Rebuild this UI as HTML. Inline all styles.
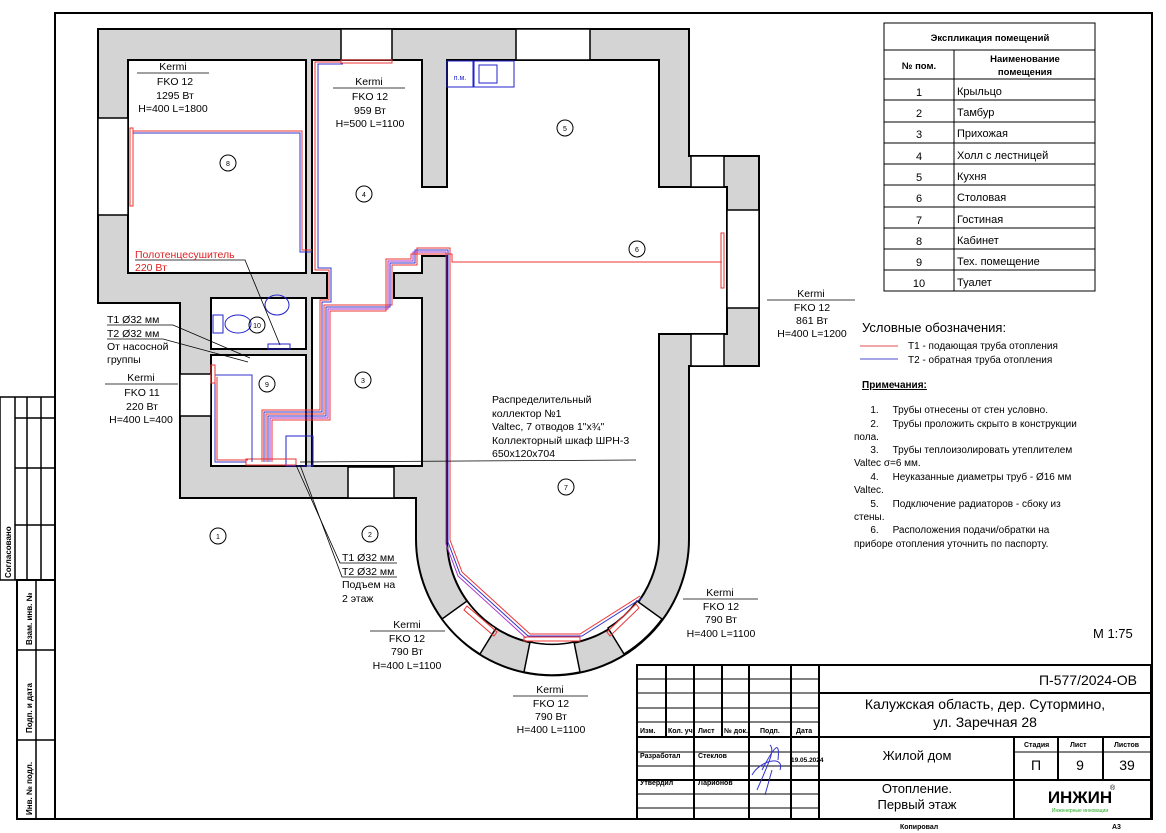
<!DOCTYPE html>
<html><head><meta charset="utf-8"><style>
html,body{margin:0;padding:0;background:#fff;}
svg{display:block;font-family:"Liberation Sans","DejaVu Sans",sans-serif;}
</style></head><body>
<svg width="1166" height="833" viewBox="0 0 1166 833" xmlns="http://www.w3.org/2000/svg">
<rect width="1166" height="833" fill="#fff"/>
<rect x="55" y="13" width="1097" height="806" fill="none" stroke="#000" stroke-width="2"/>
<g stroke="#000" stroke-width="1.5" fill="none">
<rect x="0" y="397" width="55" height="183"/>
<line x1="15" y1="397" x2="15" y2="580"/><line x1="27" y1="397" x2="27" y2="580"/><line x1="41" y1="397" x2="41" y2="580"/>
<line x1="15" y1="418" x2="55" y2="418"/><line x1="15" y1="468" x2="55" y2="468"/><line x1="15" y1="525" x2="55" y2="525"/>
<rect x="17" y="580" width="38" height="239" stroke-width="2"/>
<line x1="36" y1="580" x2="36" y2="819"/>
<line x1="17" y1="650" x2="55" y2="650"/><line x1="17" y1="740" x2="55" y2="740"/>
</g>
<g font-size="8" font-weight="bold">
<text transform="translate(11,578) rotate(-90)">Согласовано</text>
<text transform="translate(32,645) rotate(-90)">Взам. инв. №</text>
<text transform="translate(32,733) rotate(-90)">Подп. и дата</text>
<text transform="translate(32,815) rotate(-90)">Инв. № подл.</text>
</g>

<path d="M98,29 L689,29 L689,156 L759,156 L759,366 L689,366 L689,539 A136,136 0 0 1 416,539 L416,498 L180,498 L180,303 L98,303 Z" fill="#d4d4d4" stroke="#000" stroke-width="2"/>
<g fill="#fff" stroke="#000" stroke-width="2">
<rect x="128" y="60" width="178" height="213"/>
<rect x="211" y="298" width="95" height="51"/>
<rect x="211" y="355" width="95" height="111"/>
<path d="M312,60 L422,60 L422,187 L447,187 L447,60 L659,60 L659,187 L727,187 L727,334 L659,334 L659,539 A105,105 0 0 1 447,539 L447,256 L422,256 L422,273 L394,273 L394,298 L422,298 L422,466 L312,466 L312,298 L327,298 L327,273 L312,273 Z"/>
</g>
<g fill="#fff" stroke="#000" stroke-width="1.5">
<rect x="341" y="29" width="51" height="31"/>
<rect x="516" y="29" width="74" height="31"/>
<rect x="98" y="118" width="30" height="97"/>
<rect x="727" y="210" width="32" height="98"/>
<rect x="691" y="156" width="33" height="31"/>
<rect x="691" y="334" width="33" height="32"/>
<rect x="180" y="374" width="31" height="42"/>
<rect x="348" y="467" width="46" height="31"/>
<path d="M442,619 A136,136 0 0 0 480,654 L496,628 A105,105 0 0 1 467,601 Z"/>
<path d="M524,672 A136,136 0 0 0 580,672 L574,642 A105,105 0 0 1 530,642 Z"/>
<path d="M624,654 A136,136 0 0 0 662,619 L637,601 A105,105 0 0 1 608,628 Z"/>
</g>
<g fill="none" stroke="#22c" stroke-width="1">
<rect x="447" y="61" width="26" height="26"/><rect x="474" y="61" width="40" height="26"/><rect x="479" y="65" width="18" height="18"/>
<ellipse cx="277" cy="305" rx="12" ry="10"/><ellipse cx="238" cy="324" rx="13" ry="9"/><rect x="213" y="315" width="10" height="18"/>
<rect x="268" y="344" width="22" height="5"/><rect x="286" y="436" width="27" height="30"/>
</g>
<text x="460" y="80" font-size="7" fill="#22c" text-anchor="middle">п.м.</text>

<g fill="none" stroke-width="1">
<rect x="130" y="128" width="3" height="78" stroke="#e33"/>
<polyline points="133,131 302,131 302,250 312,250" stroke="#e33"/>
<polyline points="133,133 300,133 300,252 312,252" stroke="#33c"/>
<rect x="341" y="60" width="51" height="3" stroke="#e33"/>
<polyline points="341,62 315,62 315,270 329,270 329,300 320,300 320,410 262,410 262,462" stroke="#e33"/>
<polyline points="343,64 318,64 318,268 331,268 331,302 322,302 322,412 264,412 264,462" stroke="#33c"/>
<polyline points="266,462 266,414 324,414 324,305 392,305 392,265 417,265 417,248 450,248 450,540 462,572 530,634 580,634 640,596" stroke="#e33"/>
<polyline points="268,462 268,416 326,416 326,307 390,307 390,263 415,263 415,250 448,250 448,542 460,574 528,636 582,636 642,598" stroke="#33c"/>
<polyline points="270,462 270,418 328,418 328,309 388,309 388,261 413,261 413,252 446,252 446,544 458,576 526,638" stroke="#a3c"/>
<polyline points="272,462 272,420 330,420 330,311 386,311 386,259 411,259 411,254 452,254 452,262 722,262" stroke="#e33"/>
<rect x="721" y="233" width="3" height="55" stroke="#e33"/>
<rect x="246" y="459" width="50" height="6" stroke="#e33"/>
<polyline points="246,462 215,462 215,375 252,375 252,462" stroke="#33c"/>
<polyline points="248,460 217,460 217,377" stroke="#e33"/>
<rect x="211" y="365" width="4" height="18" stroke="#e33"/>
<polygon points="467,606 497,632 494,636 464,610" stroke="#e33"/>
<rect x="524" y="637" width="56" height="4" stroke="#e33"/>
<polygon points="607,632 636,604 639,608 610,636" stroke="#e33"/>
</g>

<g stroke="#000" stroke-width="0.8" fill="none">
<line x1="137" y1="73" x2="209" y2="73"/>
<line x1="333" y1="88" x2="405" y2="88"/>
<line x1="105" y1="384" x2="178" y2="384"/>
<polyline points="135,260 245,260 280,345"/>
<polyline points="107,325 173,325 250,358"/>
<polyline points="107,339 163,339 248,362"/>
<line x1="300" y1="462" x2="636" y2="460"/>
<polyline points="296,465 340,563 397,563"/>
<polyline points="300,465 342,577 397,577"/>
<line x1="767" y1="300" x2="855" y2="300"/>
<line x1="370" y1="631" x2="445" y2="631"/>
<line x1="683" y1="599" x2="758" y2="599"/>
<line x1="513" y1="696" x2="588" y2="696"/>
</g>
<g fill="none" stroke="#000" stroke-width="1">
<circle cx="218" cy="536" r="8"/><circle cx="370" cy="534" r="8"/><circle cx="363" cy="380" r="8"/>
<circle cx="364" cy="194" r="8"/><circle cx="565" cy="128" r="8"/><circle cx="637" cy="249" r="8"/>
<circle cx="566" cy="487" r="8"/><circle cx="228" cy="163" r="8"/><circle cx="267" cy="384" r="8"/><circle cx="257" cy="325" r="8"/>
</g>
<g font-size="7" text-anchor="middle">
<text x="218" y="539">1</text><text x="370" y="537">2</text><text x="363" y="383">3</text><text x="364" y="197">4</text>
<text x="565" y="131">5</text><text x="637" y="252">6</text><text x="566" y="490">7</text><text x="228" y="166">8</text>
<text x="267" y="387">9</text><text x="257" y="328">10</text>
</g>
<g font-size="10.5" text-anchor="middle">
<text x="173" y="70">Kermi</text><text x="175" y="85">FKO 12</text><text x="175" y="99">1295 Вт</text><text x="173" y="112">H=400 L=1800</text>
<text x="369" y="85">Kermi</text><text x="370" y="100">FKO 12</text><text x="370" y="114">959 Вт</text><text x="370" y="127">H=500 L=1100</text>
<text x="141" y="381">Kermi</text><text x="142" y="396">FKO 11</text><text x="142" y="410">220 Вт</text><text x="141" y="423">H=400 L=400</text>
<text x="811" y="297">Kermi</text><text x="812" y="311">FKO 12</text><text x="812" y="324">861 Вт</text><text x="812" y="337">H=400 L=1200</text>
<text x="407" y="628">Kermi</text><text x="407" y="642">FKO 12</text><text x="407" y="655">790 Вт</text><text x="407" y="669">H=400 L=1100</text>
<text x="720" y="596">Kermi</text><text x="721" y="610">FKO 12</text><text x="721" y="623">790 Вт</text><text x="721" y="637">H=400 L=1100</text>
<text x="550" y="693">Kermi</text><text x="551" y="707">FKO 12</text><text x="551" y="720">790 Вт</text><text x="551" y="733">H=400 L=1100</text>
</g>
<g font-size="10.5">
<text x="135" y="258" fill="#d22">Полотенцесушитель</text><text x="135" y="271" fill="#d22">220 Вт</text>
<text x="107" y="323">T1 Ø32 мм</text><text x="107" y="337">T2 Ø32 мм</text><text x="107" y="350">От насосной</text><text x="107" y="363">группы</text>
<text x="492" y="403">Распределительный</text><text x="492" y="417">коллектор №1</text><text x="492" y="430">Valtec, 7 отводов 1"х¾"</text><text x="492" y="444">Коллекторный шкаф ШРН-3</text><text x="492" y="457">650х120х704</text>
<text x="342" y="561">T1 Ø32 мм</text><text x="342" y="575">T2 Ø32 мм</text><text x="342" y="588">Подъем на</text><text x="342" y="602">2 этаж</text>
</g>

<g stroke="#000" stroke-width="1" fill="none">
<rect x="884" y="23" width="211" height="268"/>
<line x1="884" y1="50" x2="1095" y2="50"/><line x1="884" y1="79" x2="1095" y2="79"/>
<line x1="954" y1="50" x2="954" y2="291"/>
<line x1="884" y1="100" x2="1095" y2="100"/><line x1="884" y1="122" x2="1095" y2="122"/><line x1="884" y1="143" x2="1095" y2="143"/>
<line x1="884" y1="164" x2="1095" y2="164"/><line x1="884" y1="185" x2="1095" y2="185"/><line x1="884" y1="207" x2="1095" y2="207"/>
<line x1="884" y1="228" x2="1095" y2="228"/><line x1="884" y1="249" x2="1095" y2="249"/><line x1="884" y1="270" x2="1095" y2="270"/>
</g>
<g font-size="11">
<text x="990" y="41" text-anchor="middle" font-weight="bold" font-size="9.5">Экспликация помещений</text>
<text x="919" y="69" text-anchor="middle" font-weight="bold" font-size="9.5">№ пом.</text>
<text x="1025" y="62" text-anchor="middle" font-weight="bold" font-size="9.5">Наименование</text>
<text x="1025" y="75" text-anchor="middle" font-weight="bold" font-size="9.5">помещения</text>
<g text-anchor="middle"><text x="919" y="96">1</text><text x="919" y="117">2</text><text x="919" y="138">3</text><text x="919" y="160">4</text><text x="919" y="181">5</text><text x="919" y="202">6</text><text x="919" y="224">7</text><text x="919" y="245">8</text><text x="919" y="266">9</text><text x="919" y="287">10</text></g>
<text x="957" y="95">Крыльцо</text><text x="957" y="116">Тамбур</text><text x="957" y="137">Прихожая</text><text x="957" y="159">Холл  с  лестницей</text><text x="957" y="180">Кухня</text><text x="957" y="201">Столовая</text><text x="957" y="223">Гостиная</text><text x="957" y="244">Кабинет</text><text x="957" y="265">Тех.  помещение</text><text x="957" y="286">Туалет</text>
</g>
<text x="862" y="332" font-size="13">Условные обозначения:</text>
<line x1="860" y1="346" x2="898" y2="346" stroke="#e88" stroke-width="1.5"/>
<line x1="860" y1="359" x2="898" y2="359" stroke="#88d" stroke-width="1.5"/>
<g font-size="10">
<text x="908" y="349">T1 - подающая труба отопления</text>
<text x="908" y="363">T2 - обратная труба отопления</text>
<text x="862" y="388" font-weight="bold" text-decoration="underline">Примечания:</text>
<text x="862" y="413" xml:space="preserve">   1.     Трубы отнесены от стен условно.</text>
<text x="862" y="427" xml:space="preserve">   2.     Трубы проложить скрыто в конструкции</text>
<text x="854" y="440">пола.</text>
<text x="862" y="453" xml:space="preserve">   3.     Трубы теплоизолировать утеплителем</text>
<text x="854" y="466">Valtec σ=6 мм.</text>
<text x="862" y="480" xml:space="preserve">   4.     Неуказанные диаметры труб - Ø16 мм</text>
<text x="854" y="493">Valtec.</text>
<text x="862" y="507" xml:space="preserve">   5.     Подключение радиаторов - сбоку из</text>
<text x="854" y="520">стены.</text>
<text x="862" y="533" xml:space="preserve">   6.     Расположения подачи/обратки на</text>
<text x="854" y="547">приборе отопления уточнить по паспорту.</text>
</g>
<text x="1093" y="638" font-size="13">М 1:75</text>

<g stroke="#000" fill="none">
<rect x="637" y="665" width="514" height="154" stroke-width="2"/>
<g stroke-width="1">
<line x1="637" y1="679" x2="819" y2="679"/><line x1="637" y1="693" x2="819" y2="693"/><line x1="637" y1="708" x2="819" y2="708"/>
<line x1="637" y1="722" x2="819" y2="722"/><line x1="637" y1="752" x2="819" y2="752"/><line x1="637" y1="766" x2="819" y2="766"/>
<line x1="637" y1="794" x2="819" y2="794"/><line x1="637" y1="808" x2="819" y2="808"/>
<line x1="1014" y1="752" x2="1151" y2="752"/>
</g>
<g stroke-width="2">
<line x1="819" y1="665" x2="819" y2="819"/>
<line x1="666" y1="665" x2="666" y2="737"/><line x1="694" y1="665" x2="694" y2="819"/>
<line x1="722" y1="665" x2="722" y2="737"/><line x1="749" y1="665" x2="749" y2="819"/><line x1="791" y1="665" x2="791" y2="819"/>
<line x1="637" y1="737" x2="1151" y2="737"/><line x1="637" y1="780" x2="1151" y2="780"/>
<line x1="819" y1="693" x2="1151" y2="693"/>
<line x1="1014" y1="737" x2="1014" y2="819"/><line x1="1058" y1="737" x2="1058" y2="780"/><line x1="1103" y1="737" x2="1103" y2="780"/>
</g>
</g>
<g font-size="7" font-weight="bold">
<text x="640" y="733">Изм.</text><text x="668" y="733">Кол. уч.</text><text x="698" y="733">Лист</text><text x="724" y="733">№ док.</text><text x="760" y="733">Подп.</text><text x="796" y="733">Дата</text>
<text x="640" y="758">Разработал</text><text x="698" y="758">Стеклов</text><text x="791" y="762" font-size="6.5">19.05.2024</text>
<text x="640" y="785">Утвердил</text><text x="698" y="785">Ларионов</text>
<text x="1024" y="747">Стадия</text><text x="1070" y="747">Лист</text><text x="1114" y="747">Листов</text>
<text x="900" y="829">Копировал</text><text x="1112" y="829">А3</text>
</g>
<path d="M757,790 C770,760 775,750 770,745 M762,770 C775,745 780,740 778,760 M765,795 L772,770 M752,775 C760,760 785,755 780,770" stroke="#33c" fill="none" stroke-width="1"/>
<g font-size="14">
<text x="1137" y="685" text-anchor="end">П-577/2024-ОВ</text>
<text x="985" y="709" text-anchor="middle">Калужская область, дер. Сутормино,</text>
<text x="985" y="727" text-anchor="middle">ул. Заречная 28</text>
<text x="917" y="760" text-anchor="middle" font-size="13">Жилой дом</text>
<text x="1036" y="770" text-anchor="middle">П</text><text x="1080" y="770" text-anchor="middle">9</text><text x="1127" y="770" text-anchor="middle">39</text>
<text x="917" y="793" text-anchor="middle" font-size="13">Отопление.</text>
<text x="917" y="809" text-anchor="middle" font-size="13">Первый этаж</text>
</g>
<text x="1080" y="803" text-anchor="middle" font-size="17" font-weight="bold">ИНЖИН</text>
<text x="1110" y="790" font-size="7">®</text>
<text x="1080" y="812" text-anchor="middle" font-size="5" fill="#2a2">Инженерные инновации</text>
</svg>
</body></html>
